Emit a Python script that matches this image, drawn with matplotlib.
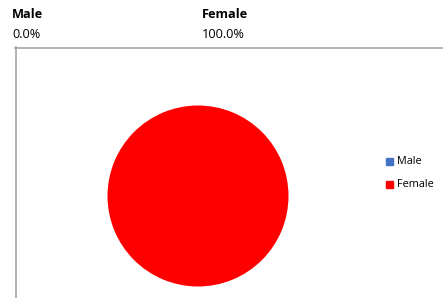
import matplotlib.pyplot as plt
from matplotlib.patches import Rectangle
from matplotlib.lines import Line2D

plt.rcParams['font.family'] = ['Open Sans', 'DejaVu Sans']

labels = ['Male', 'Female']
values = [0.0, 100.0]
colors = ['#4472C4', '#FF0000']

W, H = 443, 298
fig = plt.figure(figsize=(W / 100, H / 100), dpi=100)

def fx(px):
    return px / W

def fy(py):
    return 1 - py / H

# header with category / percentage
head_x = [12, 202]
for lab, val, x in zip(labels, values, head_x):
    fig.text(fx(x), fy(14), lab, fontsize=9.2, fontweight='bold', va='center', ha='left')
    fig.text(fx(x), fy(34), f'{val:.1f}%', fontsize=9.2, va='center', ha='left')

# chart frame (left and top border)
fig.add_artist(Line2D([fx(15.5), fx(15.5)], [fy(47), fy(300)], color='#a6a6a6', lw=1.2))
fig.add_artist(Line2D([fx(15), fx(445)], [fy(47.5), fy(47.5)], color='#a6a6a6', lw=1.2))

# pie
cx, cy, r = 198, 196, 90.5
ax = fig.add_axes([fx(cx - r), fy(cy + r), 2 * r / W, 2 * r / H])
wedges, _ = ax.pie(values, colors=colors, startangle=90, counterclock=False,
                   wedgeprops=dict(linewidth=0))
ax.set_xlim(-1, 1)
ax.set_ylim(-1, 1)
ax.axis('off')

# legend
for i, (lab, c) in enumerate(zip(labels, colors)):
    y = 162 + i * 22.5
    fig.add_artist(Rectangle((fx(386), fy(y + 3.5)), 7 / W, 7 / H, color=c, transform=fig.transFigure))
    fig.text(fx(397), fy(y), lab, fontsize=7.8, va='center', ha='left')

fig.savefig('out.png', dpi=100)
